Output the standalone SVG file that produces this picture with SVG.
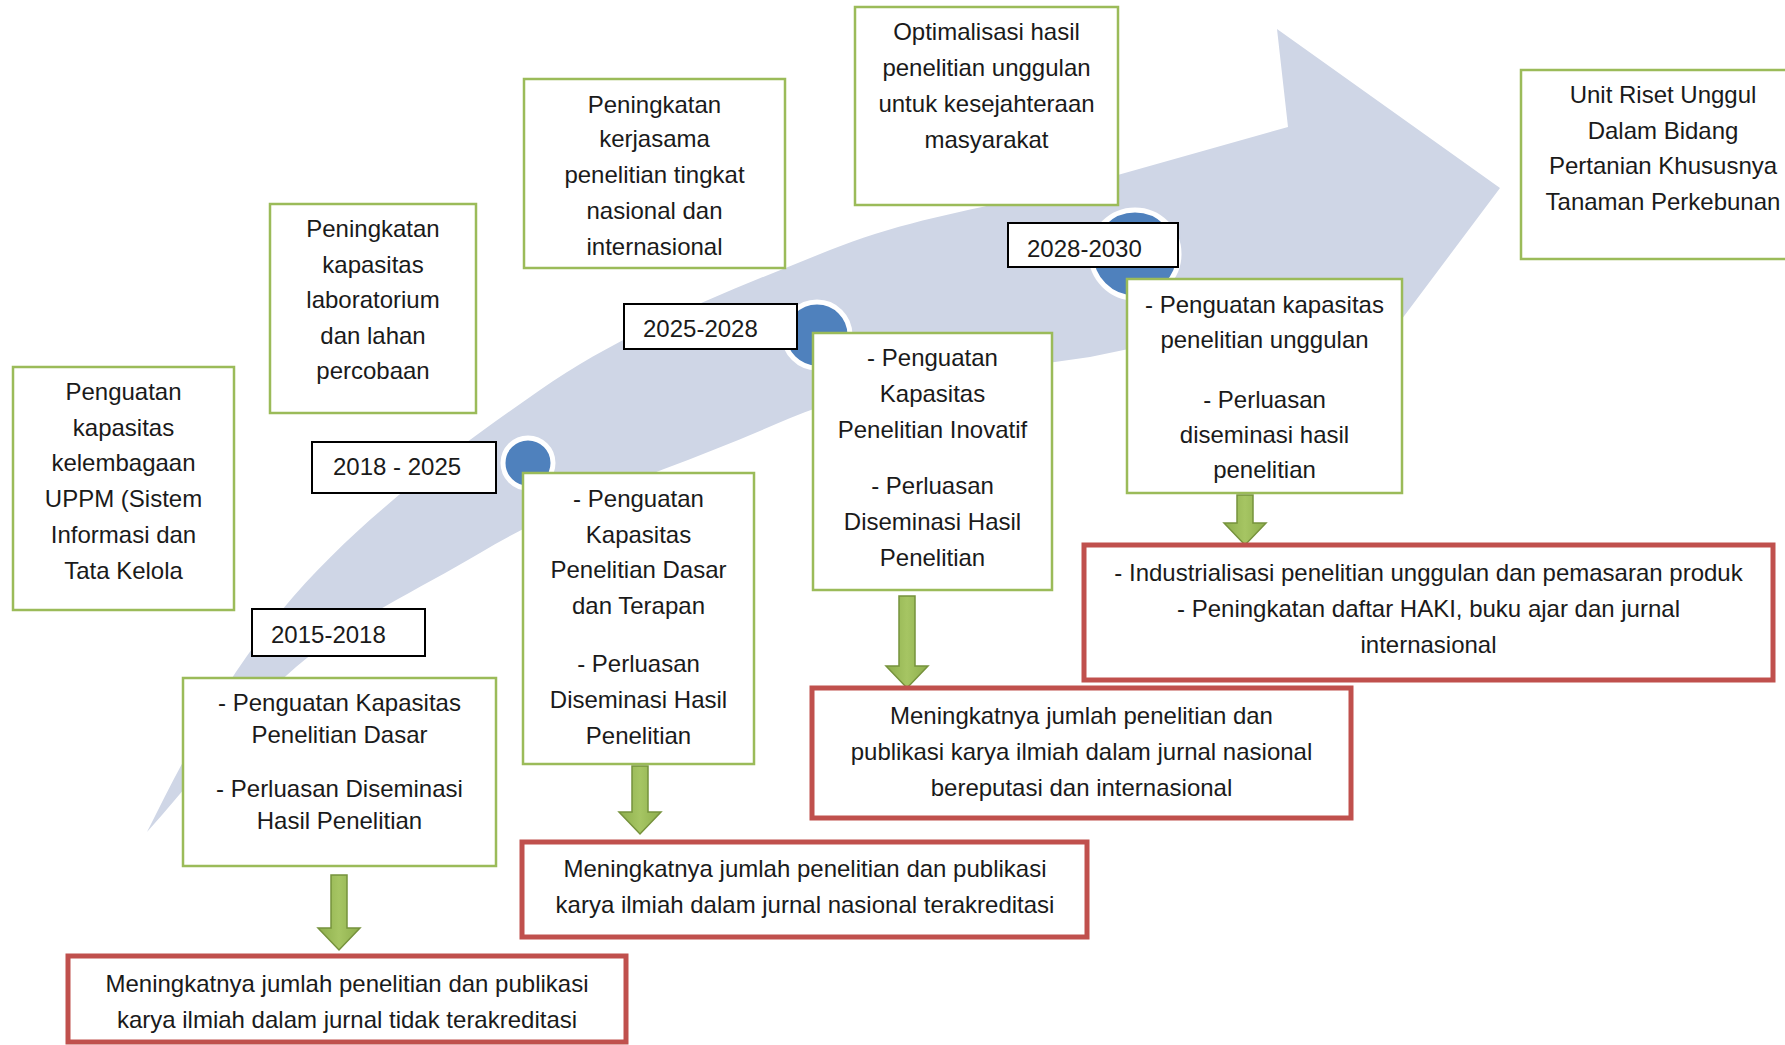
<svg xmlns="http://www.w3.org/2000/svg" width="1785" height="1045" viewBox="0 0 1785 1045">
<defs>
<linearGradient id="gArrow" x1="0" y1="0" x2="1" y2="0">
<stop offset="0" stop-color="#8DAE4C"/>
<stop offset="0.5" stop-color="#A6C563"/>
<stop offset="1" stop-color="#8DAE4C"/>
</linearGradient>
<style>
.gbox{fill:#FFFFFF;stroke:#9BBB59;stroke-width:2.5}
.rbox{fill:#FFFFFF;stroke:#C0504D;stroke-width:5}
.dbox{fill:#FFFFFF;stroke:#000000;stroke-width:2}
.dot{fill:#4F81BD;stroke:#FFFFFF;stroke-width:5}
.t{font-family:"Liberation Sans",Arial,sans-serif;font-size:24px;fill:#1A1A1A;text-anchor:middle}
.d{font-family:"Liberation Sans",Arial,sans-serif;font-size:24px;fill:#1A1A1A}
.arr{fill:url(#gArrow);stroke:#76923C;stroke-width:1.5}
</style>
</defs>
<rect width="1785" height="1045" fill="#FFFFFF"/>
<path id="band" fill="#CFD6E6" d="M147,832 C186,754 226,677 282,610 C354,523 447,455 540,390 C628,329 731,290 830,250 C916,215 1010,204 1100,180 L1288,127 L1277,29 L1500,188 L1336,407 L1316,310 L1090,357 C984,373 874,380 776,424 C677,468 573,497 480,553 C418,590 351,620 296,667 C240,715 197,777 147,832 Z"/>
<g id="dots">
<circle class="dot" cx="528" cy="463" r="25"/>
<circle class="dot" cx="817" cy="335" r="33"/>
<circle class="dot" cx="1135" cy="254" r="44"/>
</g>
<g id="connectors">
<path class="arr" d="M331,875 H347 V928 H360 L339,950 L318,928 H331 Z"/>
<path class="arr" d="M632,766 H648 V812 H661 L640,834 L619,812 H632 Z"/>
<path class="arr" d="M899,596 H915 V666 H928 L907,688 L886,666 H899 Z"/>
<path class="arr" d="M1237,495 H1253 V523 H1266 L1245,545 L1224,523 H1237 Z"/>
</g>
<g id="node-A">
<rect class="gbox" x="13" y="367" width="221" height="243"/>
<text class="t" x="123.5" y="400">Penguatan</text>
<text class="t" x="123.5" y="436">kapasitas</text>
<text class="t" x="123.5" y="471">kelembagaan</text>
<text class="t" x="123.5" y="507">UPPM (Sistem</text>
<text class="t" x="123.5" y="543">Informasi dan</text>
<text class="t" x="123.5" y="579">Tata Kelola</text>
</g>
<g id="node-B">
<rect class="gbox" x="270" y="204" width="206" height="209"/>
<text class="t" x="373" y="237">Peningkatan</text>
<text class="t" x="373" y="273">kapasitas</text>
<text class="t" x="373" y="308">laboratorium</text>
<text class="t" x="373" y="344">dan lahan</text>
<text class="t" x="373" y="379">percobaan</text>
</g>
<g id="node-C">
<rect class="gbox" x="524" y="79" width="261" height="189"/>
<text class="t" x="654.5" y="113">Peningkatan</text>
<text class="t" x="654.5" y="147">kerjasama</text>
<text class="t" x="654.5" y="183">penelitian tingkat</text>
<text class="t" x="654.5" y="219">nasional dan</text>
<text class="t" x="654.5" y="255">internasional</text>
</g>
<g id="node-D">
<rect class="gbox" x="855" y="7" width="263" height="198"/>
<text class="t" x="986.5" y="40">Optimalisasi hasil</text>
<text class="t" x="986.5" y="76">penelitian unggulan</text>
<text class="t" x="986.5" y="112">untuk kesejahteraan</text>
<text class="t" x="986.5" y="148">masyarakat</text>
</g>
<g id="node-G">
<rect class="gbox" x="1521" y="70" width="284" height="189"/>
<text class="t" x="1663" y="103">Unit Riset Unggul</text>
<text class="t" x="1663" y="139">Dalam Bidang</text>
<text class="t" x="1663" y="174">Pertanian Khususnya</text>
<text class="t" x="1663" y="210">Tanaman Perkebunan</text>
</g>
<g id="date-2015">
<rect class="dbox" x="252" y="609" width="173" height="47"/>
<text class="d" x="271" y="643">2015-2018</text>
</g>
<g id="date-2018">
<rect class="dbox" x="312" y="442" width="184" height="51"/>
<text class="d" x="333" y="475">2018 - 2025</text>
</g>
<g id="date-2025">
<rect class="dbox" x="624" y="304" width="173" height="45"/>
<text class="d" x="643" y="337">2025-2028</text>
</g>
<g id="date-2028">
<rect class="dbox" x="1008" y="223" width="170" height="44"/>
<text class="d" x="1027" y="257">2028-2030</text>
</g>
<g id="node-H">
<rect class="gbox" x="183" y="678" width="313" height="188"/>
<text class="t" x="339.5" y="711">- Penguatan Kapasitas</text>
<text class="t" x="339.5" y="743">Penelitian Dasar</text>
<text class="t" x="339.5" y="797">- Perluasan Diseminasi</text>
<text class="t" x="339.5" y="829">Hasil Penelitian</text>
</g>
<g id="node-J">
<rect class="gbox" x="523" y="473" width="231" height="291"/>
<text class="t" x="638.5" y="507">- Penguatan</text>
<text class="t" x="638.5" y="543">Kapasitas</text>
<text class="t" x="638.5" y="578">Penelitian Dasar</text>
<text class="t" x="638.5" y="614">dan Terapan</text>
<text class="t" x="638.5" y="672">- Perluasan</text>
<text class="t" x="638.5" y="708">Diseminasi Hasil</text>
<text class="t" x="638.5" y="744">Penelitian</text>
</g>
<g id="node-E">
<rect class="gbox" x="813" y="333" width="239" height="257"/>
<text class="t" x="932.5" y="366">- Penguatan</text>
<text class="t" x="932.5" y="402">Kapasitas</text>
<text class="t" x="932.5" y="438">Penelitian Inovatif</text>
<text class="t" x="932.5" y="494">- Perluasan</text>
<text class="t" x="932.5" y="530">Diseminasi Hasil</text>
<text class="t" x="932.5" y="566">Penelitian</text>
</g>
<g id="node-F">
<rect class="gbox" x="1127" y="279" width="275" height="214"/>
<text class="t" x="1264.5" y="313">- Penguatan kapasitas</text>
<text class="t" x="1264.5" y="348">penelitian unggulan</text>
<text class="t" x="1264.5" y="408">- Perluasan</text>
<text class="t" x="1264.5" y="443">diseminasi hasil</text>
<text class="t" x="1264.5" y="478">penelitian</text>
</g>
<g id="result-2015">
<rect class="rbox" x="68" y="956" width="558" height="86"/>
<text class="t" x="347" y="992">Meningkatnya jumlah penelitian dan publikasi</text>
<text class="t" x="347" y="1028">karya ilmiah dalam jurnal tidak terakreditasi</text>
</g>
<g id="result-2018">
<rect class="rbox" x="522" y="842" width="565" height="95"/>
<text class="t" x="805" y="877">Meningkatnya jumlah penelitian dan publikasi</text>
<text class="t" x="805" y="913">karya ilmiah dalam jurnal nasional terakreditasi</text>
</g>
<g id="result-2025">
<rect class="rbox" x="812" y="688" width="539" height="130"/>
<text class="t" x="1081.5" y="724">Meningkatnya jumlah penelitian dan</text>
<text class="t" x="1081.5" y="760">publikasi karya ilmiah dalam jurnal nasional</text>
<text class="t" x="1081.5" y="796">bereputasi dan internasional</text>
</g>
<g id="result-2028">
<rect class="rbox" x="1084" y="545" width="689" height="135"/>
<text class="t" x="1428.5" y="581">- Industrialisasi penelitian unggulan dan pemasaran produk</text>
<text class="t" x="1428.5" y="617">- Peningkatan daftar HAKI, buku ajar dan jurnal</text>
<text class="t" x="1428.5" y="653">internasional</text>
</g>
</svg>
